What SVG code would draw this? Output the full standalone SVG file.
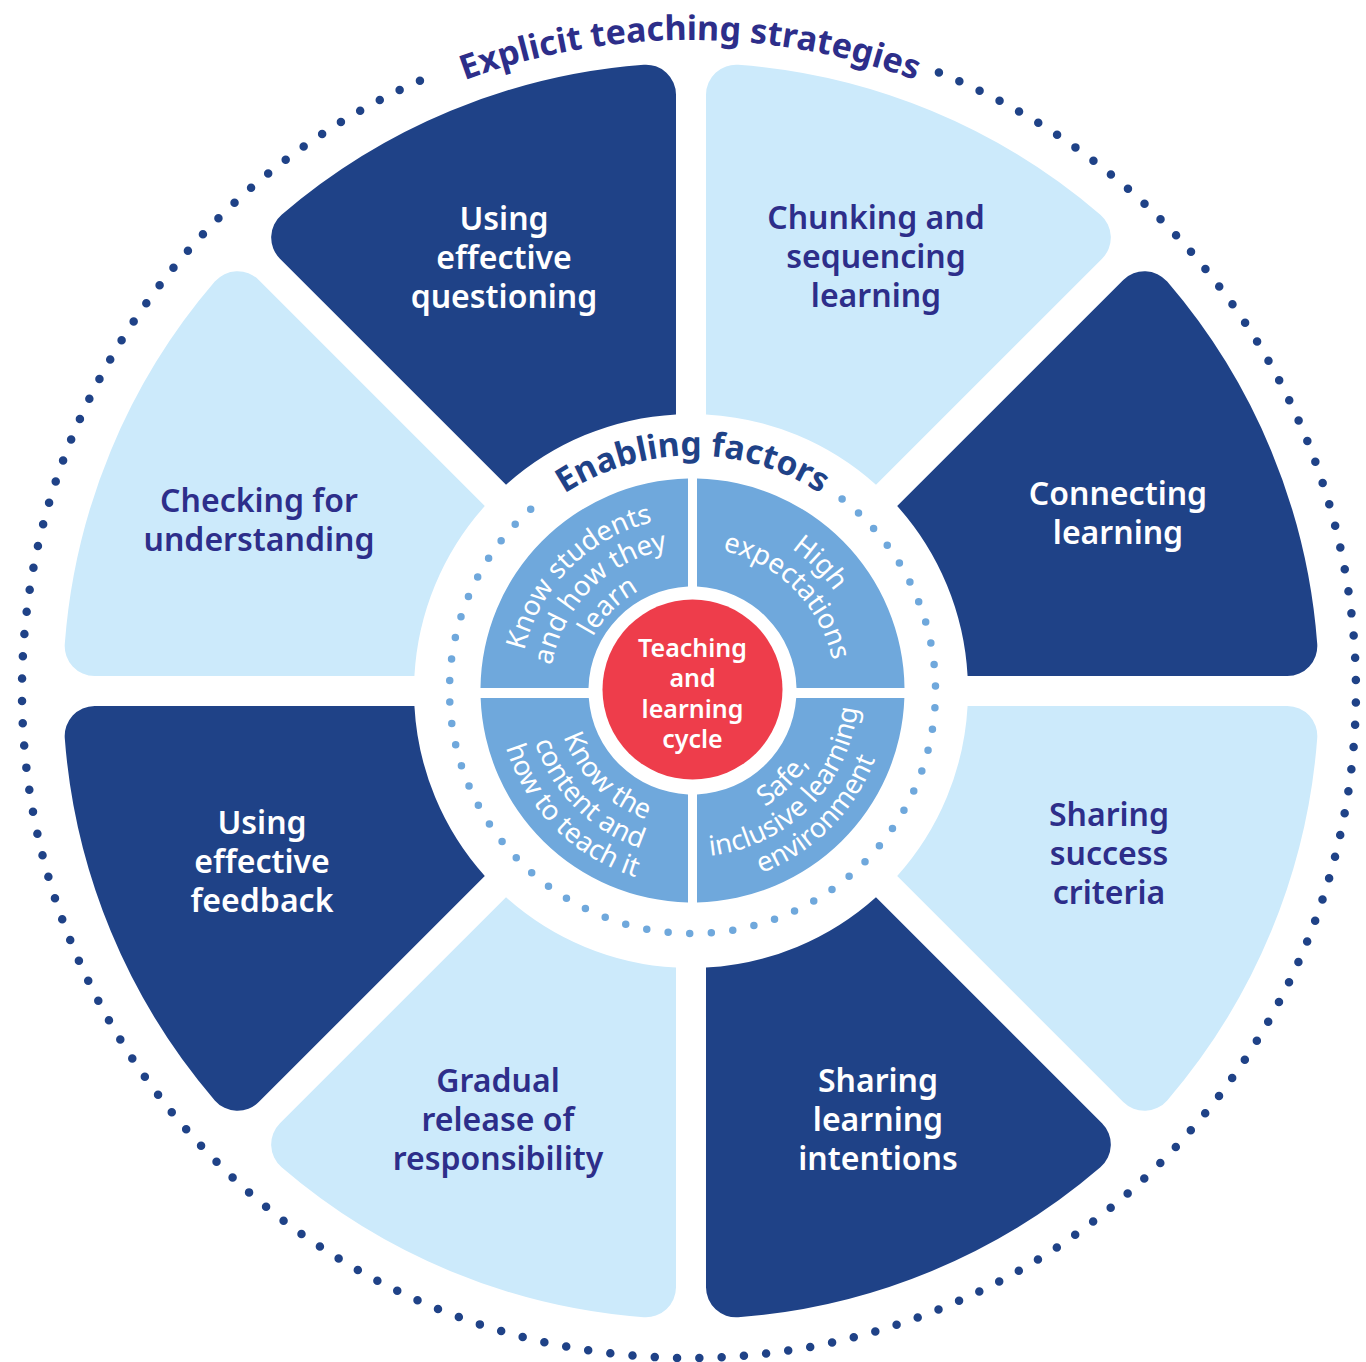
<svg xmlns="http://www.w3.org/2000/svg" xmlns:xlink="http://www.w3.org/1999/xlink" width="1366" height="1362" viewBox="0 0 1366 1362">
<style>
.light{fill:#cceafb}
.dark{fill:#1f4287}
.st{font-family:"Noto Sans","Liberation Sans",sans-serif;font-weight:600;font-size:32px;text-anchor:middle}
.tl{fill:#2d2e8a}
.td{fill:#ffffff}
.quad{fill:#6fa8dc}
.qt{font-family:"Noto Sans","Liberation Sans",sans-serif;font-weight:400;font-size:27.5px;fill:#ffffff;text-anchor:middle}
.ct{font-family:"Noto Sans","Liberation Sans",sans-serif;font-weight:600;font-size:25px;fill:#ffffff;text-anchor:middle}
.arc-title{font-family:"Noto Sans","Liberation Sans",sans-serif;font-weight:700;text-anchor:middle}
.dots-outer{fill:none;stroke:#1f4287;stroke-width:8.5;stroke-linecap:round;stroke-dasharray:0 22.3}
.dots-inner{fill:none;stroke:#6fa8dc;stroke-width:7.5;stroke-linecap:round;stroke-dasharray:0 21.6}
</style>
<defs>
<path id="seg" d="M706,414.41 L706,94.70 A30,30 0 0 1 738.26,64.79 A628,628 0 0 1 1100.39,214.78 A30,30 0 0 1 1102.04,258.75 L875.97,484.81 A277,277 0 0 0 706,414.41 Z"/>
<path id="arcOuter" d="M126.2,365.5 A651,651 0 0 1 1253.8,365.5"/>
<path id="arcEnab" d="M461.1,649.7 A235,235 0 0 1 923.9,649.7"/>
<path id="aT113" d="M579.93,680.65 A113,113 0 0 1 805.07,680.65"/>
<path id="aT143" d="M550.04,678.04 A143,143 0 0 1 834.96,678.04"/>
<path id="aT173" d="M520.16,675.42 A173,173 0 0 1 864.84,675.42"/>
<path id="aB137" d="M556.02,702.44 A137,137 0 0 0 828.98,702.44"/>
<path id="aB166" d="M527.13,704.97 A166,166 0 0 0 857.87,704.97"/>
<path id="aB195" d="M498.24,707.5 A195,195 0 0 0 886.76,707.5"/>
</defs>
<rect x="0" y="0" width="1366" height="1362" fill="#ffffff"/>

<g id="outer-ring">
<path class="dots-outer" d="M938.9,72.6 A667,667 0 1 1 428.4,77.0"/>
<text class="arc-title" font-size="34" fill="#2d2e8a"><textPath href="#arcOuter" startOffset="50%">Explicit teaching strategies</textPath></text>
</g>

<g id="seg-chunking">
<use href="#seg" class="light"/>
<text class="st tl"><tspan x="876" y="229">Chunking and</tspan><tspan x="876" y="268">sequencing</tspan><tspan x="876" y="307">learning</tspan></text>
</g>
<g id="seg-connecting">
<use href="#seg" class="dark" transform="rotate(45 691 691)"/>
<text class="st td"><tspan x="1118" y="505">Connecting</tspan><tspan x="1118" y="544">learning</tspan></text>
</g>
<g id="seg-success">
<use href="#seg" class="light" transform="rotate(90 691 691)"/>
<text class="st tl"><tspan x="1109" y="826">Sharing</tspan><tspan x="1109" y="865">success</tspan><tspan x="1109" y="904">criteria</tspan></text>
</g>
<g id="seg-intentions">
<use href="#seg" class="dark" transform="rotate(135 691 691)"/>
<text class="st td"><tspan x="878" y="1092">Sharing</tspan><tspan x="878" y="1131">learning</tspan><tspan x="878" y="1170">intentions</tspan></text>
</g>
<g id="seg-gradual">
<use href="#seg" class="light" transform="rotate(180 691 691)"/>
<text class="st tl"><tspan x="498" y="1092">Gradual</tspan><tspan x="498" y="1131">release of</tspan><tspan x="498" y="1170">responsibility</tspan></text>
</g>
<g id="seg-feedback">
<use href="#seg" class="dark" transform="rotate(225 691 691)"/>
<text class="st td"><tspan x="262" y="834">Using</tspan><tspan x="262" y="873">effective</tspan><tspan x="262" y="912">feedback</tspan></text>
</g>
<g id="seg-checking">
<use href="#seg" class="light" transform="rotate(270 691 691)"/>
<text class="st tl"><tspan x="259" y="512">Checking for</tspan><tspan x="259" y="551">understanding</tspan></text>
</g>
<g id="seg-questioning">
<use href="#seg" class="dark" transform="rotate(315 691 691)"/>
<text class="st td"><tspan x="504" y="230">Using</tspan><tspan x="504" y="269">effective</tspan><tspan x="504" y="308">questioning</tspan></text>
</g>

<g id="enabling-ring">
<path class="dots-inner" d="M842.1,499.0 A243,243 0 1 1 533.1,507.1"/>
<text class="arc-title" font-size="33.5" fill="#1f4287"><textPath href="#arcEnab" startOffset="50%">Enabling factors</textPath></text>
</g>

<g id="q-know-students">
<path class="quad" d="M480.5,688 A212,212 0 0 1 688,478.55 L688,586.6 A104,104 0 0 0 588.5,688 Z"/>
<text class="qt" transform="rotate(-45 692.5 690.5)"><textPath href="#aT173" startOffset="50%">Know students</textPath></text>
<text class="qt" transform="rotate(-45 692.5 690.5)"><textPath href="#aT143" startOffset="50%">and how they</textPath></text>
<text class="qt" transform="rotate(-45 692.5 690.5)"><textPath href="#aT113" startOffset="50%">learn</textPath></text>
</g>
<g id="q-high-expectations">
<path class="quad" d="M697,478.55 A212,212 0 0 1 904.5,688 L796.5,688 A104,104 0 0 0 697,586.6 Z"/>
<text class="qt" transform="rotate(45 692.5 690.5)"><textPath href="#aT173" startOffset="50%">High</textPath></text>
<text class="qt" transform="rotate(45 692.5 690.5)"><textPath href="#aT143" startOffset="50%">expectations</textPath></text>
</g>
<g id="q-safe-inclusive">
<path class="quad" d="M904.37,698 A212,212 0 0 1 697,902.45 L697,794.4 A104,104 0 0 0 796.23,698 Z"/>
<text class="qt" transform="rotate(-45 692.5 690.5)"><textPath href="#aB137" startOffset="50%">Safe,</textPath></text>
<text class="qt" transform="rotate(-45 692.5 690.5)"><textPath href="#aB166" startOffset="50%">inclusive learning</textPath></text>
<text class="qt" transform="rotate(-45 692.5 690.5)"><textPath href="#aB195" startOffset="50%">environment</textPath></text>
</g>
<g id="q-know-content">
<path class="quad" d="M688,902.45 A212,212 0 0 1 480.63,698 L588.77,698 A104,104 0 0 0 688,794.4 Z"/>
<text class="qt" transform="rotate(45 692.5 690.5)"><textPath href="#aB137" startOffset="50%">Know the</textPath></text>
<text class="qt" transform="rotate(45 692.5 690.5)"><textPath href="#aB166" startOffset="50%">content and</textPath></text>
<text class="qt" transform="rotate(45 692.5 690.5)"><textPath href="#aB195" startOffset="50%">how to teach it</textPath></text>
</g>

<g id="center-cycle">
<circle cx="692.5" cy="689.5" r="90" fill="#ee3d4b"/>
<text class="ct"><tspan x="692.5" y="657">Teaching</tspan><tspan x="692.5" y="687">and</tspan><tspan x="692.5" y="718">learning</tspan><tspan x="692.5" y="748">cycle</tspan></text>
</g>

<g id="connectors"></g>
</svg>
